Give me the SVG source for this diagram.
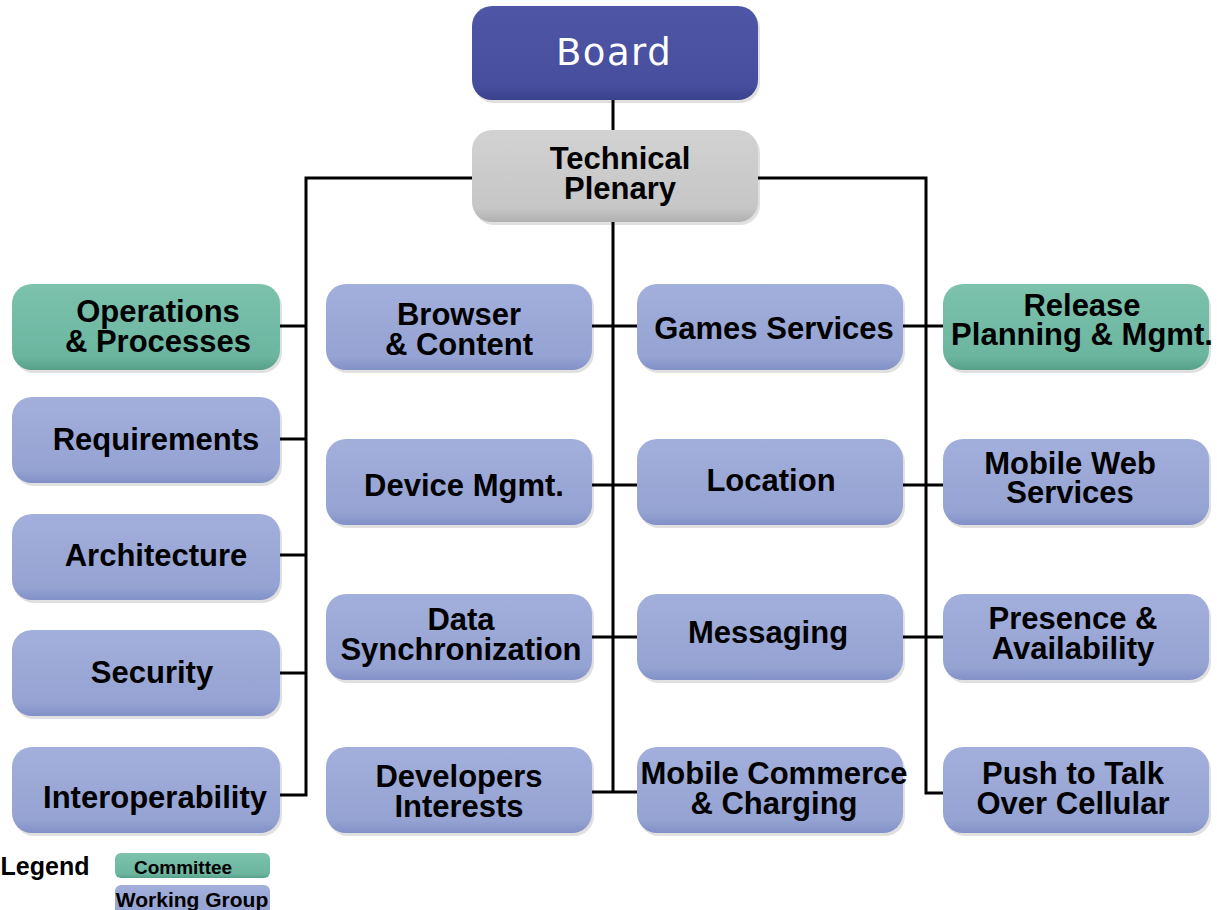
<svg xmlns="http://www.w3.org/2000/svg" width="1217" height="910" viewBox="0 0 1217 910">
<defs>
<linearGradient id="gWG" x1="0" y1="0" x2="0" y2="1">
<stop offset="0" stop-color="#a3afdb"/><stop offset="0.85" stop-color="#95a3d3"/><stop offset="1" stop-color="#8190c6"/>
</linearGradient>
<linearGradient id="gC" x1="0" y1="0" x2="0" y2="1">
<stop offset="0" stop-color="#7cc2ad"/><stop offset="0.85" stop-color="#6bb59f"/><stop offset="1" stop-color="#559f89"/>
</linearGradient>
<linearGradient id="gB" x1="0" y1="0" x2="0" y2="1">
<stop offset="0" stop-color="#4f56a6"/><stop offset="0.85" stop-color="#474e9d"/><stop offset="1" stop-color="#3a418c"/>
</linearGradient>
<linearGradient id="gP" x1="0" y1="0" x2="0" y2="1">
<stop offset="0" stop-color="#d2d2d2"/><stop offset="0.85" stop-color="#c6c6c6"/><stop offset="1" stop-color="#b0b0b0"/>
</linearGradient>
</defs>
<style>
.wg{fill:url(#gWG)}
.cm{fill:url(#gC)}
.sh{fill:#000;opacity:0.12}
.t{font-family:"Liberation Sans",Arial,sans-serif;font-weight:bold;font-size:31px;fill:#000;text-anchor:middle}
.lg{font-family:"Liberation Sans",Arial,sans-serif;font-weight:bold;fill:#000;text-anchor:middle}
.ln{stroke:#000;stroke-width:3;fill:none}
</style>
<rect width="1217" height="910" fill="#fff"/>
<g id="connectors">
<line class="ln" x1="613" y1="100" x2="613" y2="792"/>
<polyline class="ln" points="472,178 306,178 306,795 280,795"/>
<polyline class="ln" points="758,178 926,178 926,793 943,793"/>
<line class="ln" x1="280" y1="326" x2="306" y2="326"/>
<line class="ln" x1="280" y1="439" x2="306" y2="439"/>
<line class="ln" x1="280" y1="555" x2="306" y2="555"/>
<line class="ln" x1="280" y1="673" x2="306" y2="673"/>
<line class="ln" x1="592" y1="326" x2="637" y2="326"/>
<line class="ln" x1="592" y1="485" x2="637" y2="485"/>
<line class="ln" x1="592" y1="637" x2="637" y2="637"/>
<line class="ln" x1="592" y1="792" x2="637" y2="792"/>
<line class="ln" x1="903" y1="326" x2="943" y2="326"/>
<line class="ln" x1="903" y1="485" x2="943" y2="485"/>
<line class="ln" x1="903" y1="637" x2="943" y2="637"/>
</g>
<g id="board">
<rect class="sh" x="474" y="9" width="286" height="94" rx="20"/>
<rect x="472" y="6" width="286" height="94" rx="20" fill="url(#gB)"/>
<text x="614" y="65" font-family="DejaVu Sans,Verdana,sans-serif" font-size="37" letter-spacing="1.5" fill="#fff" text-anchor="middle">Board</text>
</g>
<g id="plenary">
<rect class="sh" x="474" y="133" width="286" height="92" rx="20"/>
<rect x="472" y="130" width="286" height="92" rx="20" fill="url(#gP)"/>
<text class="t" x="620" y="169">Technical</text>
<text class="t" x="620" y="199">Plenary</text>
</g>
<g id="operations">
<rect class="sh" x="14" y="287" width="268" height="86" rx="20"/>
<rect class="cm" x="12" y="284" width="268" height="86" rx="20"/>
<text class="t" x="158" y="322">Operations</text>
<text class="t" x="158" y="352">&amp; Processes</text>
</g>
<g id="requirements">
<rect class="sh" x="14" y="400" width="268" height="86" rx="20"/>
<rect class="wg" x="12" y="397" width="268" height="86" rx="20"/>
<text class="t" x="156" y="450">Requirements</text>
</g>
<g id="architecture">
<rect class="sh" x="14" y="517" width="268" height="86" rx="20"/>
<rect class="wg" x="12" y="514" width="268" height="86" rx="20"/>
<text class="t" x="156" y="566">Architecture</text>
</g>
<g id="security">
<rect class="sh" x="14" y="633" width="268" height="86" rx="20"/>
<rect class="wg" x="12" y="630" width="268" height="86" rx="20"/>
<text class="t" x="152" y="683">Security</text>
</g>
<g id="interoperability">
<rect class="sh" x="14" y="750" width="268" height="86" rx="20"/>
<rect class="wg" x="12" y="747" width="268" height="86" rx="20"/>
<text class="t" x="155" y="808">Interoperability</text>
</g>
<g id="browser">
<rect class="sh" x="328" y="287" width="266" height="86" rx="20"/>
<rect class="wg" x="326" y="284" width="266" height="86" rx="20"/>
<text class="t" x="459" y="325">Browser</text>
<text class="t" x="459" y="355">&amp; Content</text>
</g>
<g id="device">
<rect class="sh" x="328" y="442" width="266" height="86" rx="20"/>
<rect class="wg" x="326" y="439" width="266" height="86" rx="20"/>
<text class="t" x="464" y="496">Device Mgmt.</text>
</g>
<g id="datasync">
<rect class="sh" x="328" y="597" width="266" height="86" rx="20"/>
<rect class="wg" x="326" y="594" width="266" height="86" rx="20"/>
<text class="t" x="461" y="630">Data</text>
<text class="t" x="461" y="660">Synchronization</text>
</g>
<g id="developers">
<rect class="sh" x="328" y="750" width="266" height="86" rx="20"/>
<rect class="wg" x="326" y="747" width="266" height="86" rx="20"/>
<text class="t" x="459" y="787">Developers</text>
<text class="t" x="459" y="817">Interests</text>
</g>
<g id="games">
<rect class="sh" x="639" y="287" width="266" height="86" rx="20"/>
<rect class="wg" x="637" y="284" width="266" height="86" rx="20"/>
<text class="t" x="774" y="339">Games Services</text>
</g>
<g id="location">
<rect class="sh" x="639" y="442" width="266" height="86" rx="20"/>
<rect class="wg" x="637" y="439" width="266" height="86" rx="20"/>
<text class="t" x="771" y="491">Location</text>
</g>
<g id="messaging">
<rect class="sh" x="639" y="597" width="266" height="86" rx="20"/>
<rect class="wg" x="637" y="594" width="266" height="86" rx="20"/>
<text class="t" x="768" y="643">Messaging</text>
</g>
<g id="mcommerce">
<rect class="sh" x="639" y="750" width="266" height="86" rx="20"/>
<rect class="wg" x="637" y="747" width="266" height="86" rx="20"/>
<text class="t" x="774" y="784">Mobile Commerce</text>
<text class="t" x="774" y="814">&amp; Charging</text>
</g>
<g id="release">
<rect class="sh" x="945" y="287" width="266" height="86" rx="20"/>
<rect class="cm" x="943" y="284" width="266" height="86" rx="20"/>
<text class="t" x="1082" y="316">Release</text>
<text class="t" x="1082" y="345">Planning &amp; Mgmt.</text>
</g>
<g id="mobileweb">
<rect class="sh" x="945" y="442" width="266" height="86" rx="20"/>
<rect class="wg" x="943" y="439" width="266" height="86" rx="20"/>
<text class="t" x="1070" y="474">Mobile Web</text>
<text class="t" x="1070" y="503">Services</text>
</g>
<g id="presence">
<rect class="sh" x="945" y="597" width="266" height="86" rx="20"/>
<rect class="wg" x="943" y="594" width="266" height="86" rx="20"/>
<text class="t" x="1073" y="629">Presence &amp;</text>
<text class="t" x="1073" y="659">Availability</text>
</g>
<g id="ptt">
<rect class="sh" x="945" y="750" width="266" height="86" rx="20"/>
<rect class="wg" x="943" y="747" width="266" height="86" rx="20"/>
<text class="t" x="1073" y="784">Push to Talk</text>
<text class="t" x="1073" y="814">Over Cellular</text>
</g>
<g id="legend">
<text class="lg" x="45" y="875" font-size="25">Legend</text>
<rect class="cm" x="115" y="853" width="155" height="25" rx="6"/>
<text class="lg" x="183" y="874" font-size="19">Committee</text>
<rect class="wg" x="115" y="885" width="155" height="30" rx="6"/>
<text class="lg" x="192" y="907" font-size="21">Working Group</text>
</g>
</svg>
